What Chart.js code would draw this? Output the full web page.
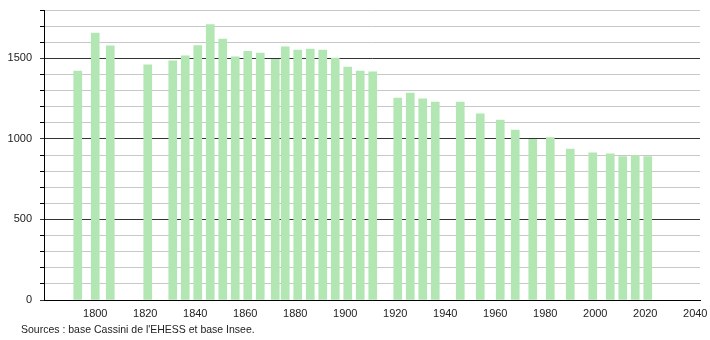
<!DOCTYPE html>
<html>
<head>
<meta charset="utf-8">
<script src="https://cdn.jsdelivr.net/npm/chart.js@4"></script>
<style>
  html, body { margin: 0; padding: 0; background: #fff; }
  #wrap { width: 710px; height: 340px; position: relative; }
</style>
</head>
<body>
<div id="wrap"><canvas id="chart"></canvas></div>
<script>
// census years and population
const years = [1793, 1800, 1806, 1821, 1831, 1836, 1841, 1846, 1851, 1856, 1861, 1866, 1872, 1876, 1881, 1886, 1891, 1896, 1901, 1906, 1911, 1921, 1926, 1931, 1936, 1946, 1954, 1962, 1968, 1975, 1982, 1990, 1999, 2006, 2011, 2016, 2021];
const population = [1421, 1657, 1577, 1459, 1484, 1515, 1579, 1709, 1620, 1509, 1544, 1533, 1494, 1572, 1552, 1558, 1552, 1502, 1446, 1421, 1417, 1254, 1285, 1248, 1229, 1229, 1155, 1117, 1055, 997, 1008, 937, 914, 908, 890, 898, 890];
const xLabels = [1800, 1820, 1840, 1860, 1880, 1900, 1920, 1940, 1960, 1980, 2000, 2020, 2040];
const yLabels = [0, 500, 1000, 1500];
const source = "Sources : base Cassini de l'EHESS et base Insee.";

let points = [];
for (let i = 0; i < years.length; i++) points.push({x: years[i], y: population[i]});

const sourcePlugin = {
    id: 'source',
    afterDraw(chart) {
        const c = chart.ctx;
        c.save();
        c.font = '10.5px "Liberation Sans", Arial, sans-serif';
        c.fillStyle = '#222';
        c.textBaseline = 'middle';
        c.fillText(source, 21, 330);
        c.restore();
    }
};

let myChart = new Chart(document.getElementById('chart'), {
    type: 'bar',
    data: {
        datasets: [{
            data: points,
            backgroundColor: 'rgb(178,230,178)',
            borderWidth: 0,
            barThickness: 8,
        }]
    },
    options: {
        responsive: true,
        maintainAspectRatio: false,
        animation: false,
        layout: { padding: { top: 10, right: 10, left: 0, bottom: 0 } },
        plugins: {
            legend: { display: false },
            tooltip: { enabled: false }
        },
        scales: {
            x: {
                type: 'linear',
                offset: false,
                min: 1779.5,
                max: 2041.9,
                afterBuildTicks: s => { s.ticks = xLabels.map(v => ({value: v})); },
                grid: { display: false, drawTicks: false, offset: false },
                border: { color: '#000', width: 1 },
                ticks: {
                    autoSkip: false,
                    maxRotation: 0,
                    padding: 7,
                    color: '#222',
                    font: { family: '"Liberation Sans", Arial, sans-serif', size: 11 },
                    callback: v => String(v)
                },
                afterFit: s => { s.height = 40; s.paddingLeft = 0; s.paddingRight = 0; }
            },
            y: {
                min: 0,
                max: 1800,
                grid: {
                    color: c => yLabels.includes(c.tick.value) ? '#333' : '#c8c8c8',
                    tickColor: c => yLabels.includes(c.tick.value) ? '#333' : '#000',
                    tickLength: 4
                },
                border: { color: '#000', width: 1 },
                ticks: {
                    stepSize: 100,
                    autoSkip: false,
                    padding: 8,
                    color: '#222',
                    font: { family: '"Liberation Sans", Arial, sans-serif', size: 11 },
                    callback: v => yLabels.includes(v) ? String(v) : ''
                },
                afterFit: s => { s.width = 44; s.paddingTop = 0; s.paddingBottom = 0; }
            }
        }
    },
    plugins: [sourcePlugin]
});
</script>
</body>
</html>
